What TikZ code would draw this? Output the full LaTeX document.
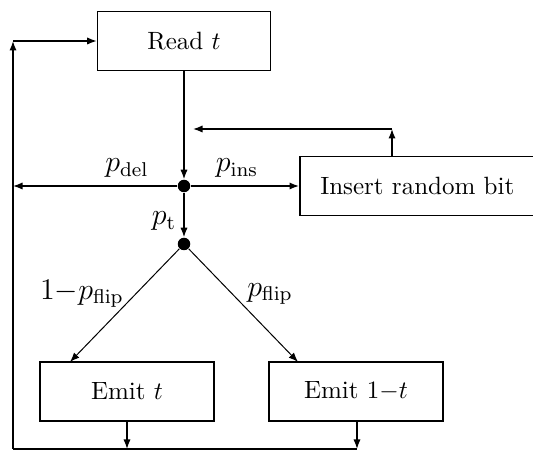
\documentclass[tikz,border=0pt]{standalone}
\usetikzlibrary{arrows.meta}
\begin{document}
\begin{tikzpicture}[x=0.4pt,y=-0.4pt,
  box/.style={draw,line width=0.6pt,minimum height=23.6pt,inner sep=0pt},
  dot/.style={circle,fill=black,inner sep=0pt,minimum size=5pt},
  wire/.style={line width=0.6pt},
  arr/.style={wire,-{Latex[length=3.8pt,width=2.9pt]}},
  thinarr/.style={line width=0.4pt,-{Latex[length=3.8pt,width=2.9pt]}},
  lbl/.style={font=\large,inner sep=1pt}]
\clip (0,0) rectangle (533,450);

% boxes
\node[box,minimum width=69.2pt] (read) at (184,41) {Read $t$};
\node[box,anchor=west,inner xsep=8.2pt,text width=100pt,align=left] (ins) at (299,186) {Insert random bit};
\node[box,minimum width=69.6pt] (emit0) at (127,391.5) {Emit $t$};
\node[box,minimum width=69.6pt] (emit1) at (356,391.5) {Emit $1{-}t$};

% branching points
\node[dot] (d1) at (184,186) {};
\node[dot] (d2) at (184,244) {};

% helper points of the feedback loops
\coordinate (lt) at (13,41);
\coordinate (lm) at (13,186);
\coordinate (lb) at (13,449);
\coordinate (b0) at (127,449);
\coordinate (b1) at (357,449);
\coordinate (ic) at (392,129);
\coordinate (ie) at (193,129);
\coordinate (e0) at (70,362);
\coordinate (e1) at (298,362);

% main flow
\draw[arr] (read.south) -- (d1);
\draw[arr] (d1) -- (ins.west);
\draw[arr] (d1) -- (lm);
\draw[arr] (d1) -- (d2);
\draw[thinarr] (d2) -- (e0);
\draw[thinarr] (d2) -- (e1);

% insertion feedback
\draw[arr] (ins.north -| ic) -- (ic);
\draw[arr] (ic) -- (ie);

% outputs and return loop
\draw[arr] (emit0.south -| b0) -- (b0);
\draw[arr] (emit1.south -| b1) -- (b1);
\draw[wire] (b1) -- (lb);
\draw[arr] (lb) -- (lt);
\draw[arr] (lt) -- (read.west);

% probabilities
\node[lbl] (pdel) at (127,168) {$p_{\mathrm{del}}$};
\node[lbl] (pins) at (237,168) {$p_{\mathrm{ins}}$};
\node[lbl] (pt) at (164,221) {$p_{\mathrm{t}}$};
\node[lbl] (pnf) at (82,294) {$1{-}p_{\mathrm{flip}}$};
\node[lbl] (pf) at (270,294) {$p_{\mathrm{flip}}$};
\end{tikzpicture}
\end{document}
